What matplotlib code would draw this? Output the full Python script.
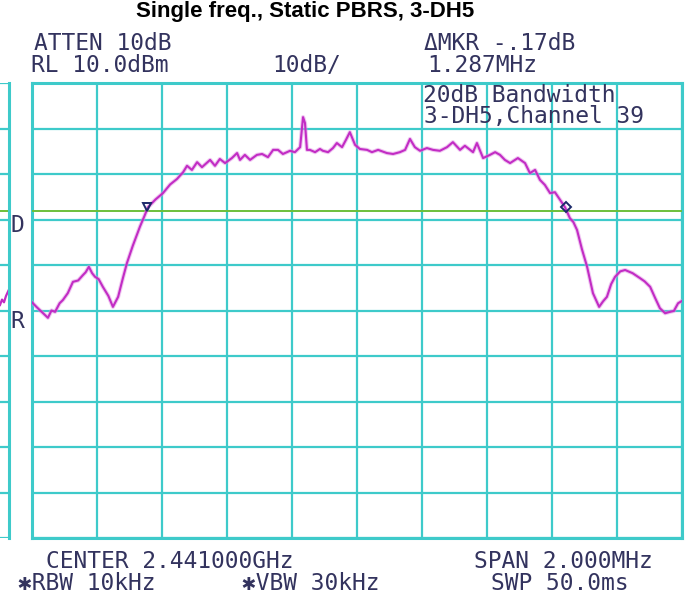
import matplotlib
matplotlib.use("Agg")
import matplotlib.pyplot as plt
import numpy as np

# ---- data ----
freq_mhz = [-1.000, -0.985, -0.966, -0.951, -0.940, -0.929, -0.915, -0.905, -0.890, -0.874,
            -0.858, -0.843, -0.835, -0.825, -0.815, -0.806, -0.795, -0.782, -0.765, -0.751,
            -0.735, -0.720, -0.708, -0.690, -0.668, -0.655, -0.643, -0.620, -0.597, -0.575,
            -0.554, -0.535, -0.523, -0.508, -0.492, -0.477, -0.452, -0.437, -0.422, -0.406,
            -0.385, -0.369, -0.360, -0.345, -0.329, -0.308, -0.292, -0.274, -0.258, -0.243,
            -0.228, -0.206, -0.191, -0.175, -0.166, -0.160, -0.154, -0.145, -0.129, -0.114,
            -0.105, -0.089, -0.074, -0.062, -0.046, -0.034, -0.022, -0.006, 0.009, 0.031,
            0.046, 0.065, 0.092, 0.111, 0.132, 0.148, 0.163, 0.178, 0.194, 0.215,
            0.234, 0.255, 0.277, 0.295, 0.317, 0.332, 0.357, 0.369, 0.388, 0.409,
            0.425, 0.440, 0.455, 0.471, 0.495, 0.517, 0.532, 0.548, 0.563, 0.578,
            0.594, 0.609, 0.625, 0.640, 0.655, 0.666, 0.677, 0.692, 0.708, 0.726,
            0.745, 0.757, 0.769, 0.782, 0.794, 0.810, 0.825, 0.848, 0.871, 0.885,
            0.902, 0.917, 0.932, 0.948, 0.963, 0.975, 0.988, 1.000]
level_dbm = [-38.2, -39.3, -40.6, -41.6, -40.0, -40.3, -38.4, -37.7, -36.2, -33.7,
             -33.4, -32.2, -31.6, -30.4, -31.8, -32.6, -33.1, -34.8, -36.8, -39.2,
             -37.0, -32.8, -29.6, -25.8, -21.6, -19.4, -17.3, -15.6, -14.2, -12.3,
             -11.1, -9.6, -8.2, -9.1, -7.4, -8.5, -6.9, -8.2, -6.7, -7.6,
             -6.5, -5.4, -6.9, -5.8, -6.9, -5.8, -5.6, -6.3, -4.7, -4.7,
             -5.6, -4.9, -5.2, -4.1, 2.5, 1.2, -4.7, -4.7, -5.2, -4.5,
             -4.9, -5.2, -4.3, -3.2, -4.1, -2.5, -0.8, -3.6, -4.5, -4.7,
             -5.2, -4.7, -5.4, -5.6, -5.2, -4.7, -2.3, -4.1, -4.9, -4.3,
             -4.7, -4.9, -4.1, -3.0, -4.7, -3.8, -5.2, -3.2, -6.5, -5.8,
             -5.2, -5.8, -6.9, -7.6, -6.5, -7.6, -9.8, -9.1, -11.3, -12.4,
             -14.2, -14.0, -15.7, -17.3, -19.7, -20.6, -22.3, -26.5, -30.4, -36.2,
             -39.2, -38.0, -37.0, -34.2, -32.6, -31.4, -31.1, -31.8, -32.9, -33.6,
             -34.8, -37.2, -39.5, -40.6, -40.3, -40.1, -38.4, -37.9]

marker_freqs = [-0.645, 0.642]
marker_levels = [-17.3, -17.3]
display_line_dbm = -18.1

strip_x = [0.0, 2.0, 4.0, 6.0, 8.5]
strip_dbm = [-38.8, -37.6, -38.2, -36.8, -35.6]

ref_level = 10.0
db_per_div = 10.0
n_div = 10

title = "Single freq., Static PBRS, 3-DH5"

GRID = "#3ecaca"
TRACE = "#c22cc4"
TXT = "#33335e"
MONO = "DejaVu Sans Mono"

fig = plt.figure(figsize=(6.86, 5.98), dpi=100)
W, H = 686, 598

def fx(px):
    return px / W

def fy(py):
    return 1 - py / H

# main axes
L, R, T, B = 32, 682, 83, 538
ax = fig.add_axes([fx(L), fy(B), (R - L) / W, (B - T) / H])
ybot = ref_level - n_div * db_per_div
ax.set_xlim(-1, 1)
ax.set_ylim(ybot, ref_level)
ax.set_xticks(np.linspace(-1, 1, n_div + 1))
ax.set_yticks(np.linspace(ybot, ref_level, n_div + 1))
ax.tick_params(length=0, labelbottom=False, labelleft=False)
ax.grid(True, color=GRID, lw=1.6)
for s in ax.spines.values():
    s.set_color(GRID)
    s.set_linewidth(2.2)
ax.axhline(display_line_dbm, color="#6cbf3a", lw=1.4, zorder=3)
ax.plot(freq_mhz, level_dbm, color="#e08ee4", lw=3.0, alpha=0.5, zorder=4)
ax.plot(freq_mhz, level_dbm, color=TRACE, lw=1.5, zorder=4)
ax.plot(marker_freqs[0], marker_levels[0], marker="v", ms=6, mfc="none", mec="#1c2a6a", mew=1.4, zorder=5)
ax.plot(marker_freqs[1], marker_levels[1], marker="D", ms=5, mfc="none", mec="#1c2a6a", mew=1.4, zorder=5)

fs = 16.5
ax.text((519 - L) / (R - L), 1 - (95 - T) / (B - T), "20dB Bandwidth", transform=ax.transAxes,
        fontsize=fs, family=MONO, color=TXT, va="center", ha="center")
ax.text((534 - L) / (R - L), 1 - (116 - T) / (B - T), "3-DH5,Channel 39", transform=ax.transAxes,
        fontsize=fs, family=MONO, color=TXT, va="center", ha="center")

# left strip
ax2 = fig.add_axes([0, fy(B), 8.5 / W, (B - T) / H])
ax2.set_xlim(0, 8.5)
ax2.set_ylim(ybot, ref_level)
ax2.set_yticks(np.linspace(ybot, ref_level, n_div + 1))
ax2.set_xticks([])
ax2.tick_params(length=0, labelleft=False)
ax2.grid(True, axis="y", color=GRID, lw=1.6)
for k, s in ax2.spines.items():
    s.set_visible(k == "right")
    s.set_color(GRID)
    s.set_linewidth(2.2)
ax2.axhline(display_line_dbm, color="#6cbf3a", lw=1.4)
ax2.plot(strip_x, strip_dbm, color=TRACE, lw=1.6)

# texts
fig.text(fx(305), fy(12), title, ha="center", va="center", fontsize=16,
         family="Liberation Sans", weight="bold", color="black")

def label(cx, cy, s, fam=MONO):
    fig.text(fx(cx), fy(cy), s, fontsize=fs, family=fam, color=TXT, va="center", ha="center")

label(103, 44, "ATTEN 10dB")
label(100, 66, "RL 10.0dBm")
label(307, 66, "10dB/")
label(500, 44, "\u0394MKR -.17dB")
label(482, 66, "1.287MHz")
label(17, 226, "D")
label(17, 322, "R")
label(170, 562, "CENTER 2.441000GHz")
label(563, 562, "SPAN 2.000MHz")
label(87, 584, "\u2731RBW 10kHz", [MONO, "DejaVu Sans"])
label(311, 584, "\u2731VBW 30kHz", [MONO, "DejaVu Sans"])
label(560, 584, "SWP 50.0ms")

fig.savefig("out.png", dpi=100, facecolor="white")
